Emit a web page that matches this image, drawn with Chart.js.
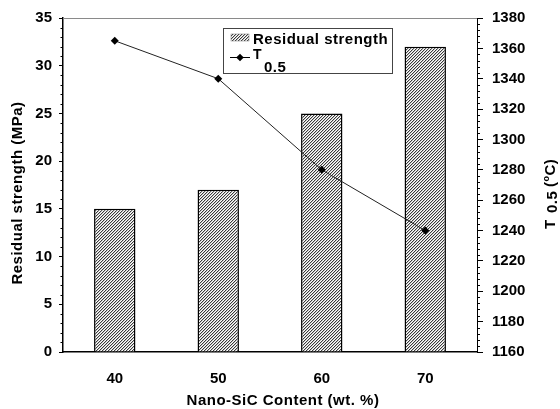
<!DOCTYPE html>
<html><head><meta charset="utf-8">
<script src="https://cdn.jsdelivr.net/npm/chart.js@4/dist/chart.umd.min.js"></script>
<style>html,body{margin:0;padding:0;background:#fff}#wrap{width:560px;height:409px;position:relative}</style>
</head><body><div id="wrap"><canvas id="c" width="560" height="409"></canvas></div>
<script>
// ---- data ----
const categories = ['40', '50', '60', '70'];
const residualStrength = [15, 17, 25, 32];
const t05 = [1365, 1340, 1280, 1240];
const leftRange = [0, 35];
const leftMajorStep = 5;
const leftMinorStep = 1;
const rightRange = [1160, 1380];
const rightMajorStep = 20;
const rightMinorStep = 4;
const xTitle = 'Nano-SiC Content (wt. %)';
const yTitle = 'Residual strength (MPa)';
const seriesNames = ['Residual strength', 'T', '0.5'];

const FONT = '"Liberation Sans", Arial, Helvetica, sans-serif';

// hatch pattern
function makeHatch() {
  const c = document.createElement('canvas');
  c.width = 3; c.height = 3;
  const g = c.getContext('2d');
  g.fillStyle = '#fff'; g.fillRect(0, 0, 3, 3);
  g.fillStyle = '#3a3a3a';
  g.fillRect(0, 2, 1, 1); g.fillRect(1, 1, 1, 1); g.fillRect(2, 0, 1, 1);
  g.fillStyle = '#c4c4c4';
  g.fillRect(0, 0, 1, 1); g.fillRect(1, 2, 1, 1); g.fillRect(2, 1, 1, 1);
  return g.createPattern(c, 'repeat');
}
const hatch = makeHatch();

const overlay = {
  id: 'overlay',
  afterDraw(chart) {
    const {ctx, chartArea: a, scales} = chart;
    ctx.save();
    // top frame line
    ctx.strokeStyle = '#8a8a8a'; ctx.lineWidth = 1;
    ctx.beginPath(); ctx.moveTo(a.left, a.top + 0.5); ctx.lineTo(a.right, a.top + 0.5); ctx.stroke();

    // minor ticks
    ctx.strokeStyle = '#000'; ctx.lineWidth = 1;
    const yl = scales.y, yr = scales.y1;
    for (let v = leftRange[0]; v <= leftRange[1]; v += leftMinorStep) {
      if (v % leftMajorStep === 0) continue;
      const p = Math.round(yl.getPixelForValue(v)) + 0.5;
      ctx.beginPath(); ctx.moveTo(a.left - 2.5, p); ctx.lineTo(a.left, p); ctx.stroke();
    }
    for (let v = rightRange[0]; v <= rightRange[1]; v += rightMinorStep) {
      if (v % rightMajorStep === 0) continue;
      const p = Math.round(yr.getPixelForValue(v)) + 0.5;
      ctx.beginPath(); ctx.moveTo(a.right, p); ctx.lineTo(a.right + 3, p); ctx.stroke();
    }

    // axis titles
    ctx.fillStyle = '#000';
    ctx.letterSpacing = '0.5px';
    ctx.font = 'bold 15px ' + FONT;
    ctx.textAlign = 'center'; ctx.textBaseline = 'middle';
    ctx.fillText(xTitle, a.left + (a.right - a.left) / 2 + 13, 401);
    ctx.save();
    ctx.translate(18, (a.top + a.bottom) / 2 + 8);
    ctx.rotate(-Math.PI / 2);
    ctx.fillText(yTitle, 0, 0);
    ctx.restore();

    // right title: T 0.5 (°C)
    ctx.save();
    ctx.translate(a.right + 78, 229);
    ctx.rotate(-Math.PI / 2);
    ctx.textAlign = 'left'; ctx.textBaseline = 'alphabetic';
    ctx.letterSpacing = '0.5px';
    ctx.font = 'bold 15px ' + FONT;
    ctx.fillText(seriesNames[1], 0, 0);
    ctx.fillText(seriesNames[2], 16, 2);
    ctx.fillText('(', 42, 0);
    let x = 42 + ctx.measureText('(').width;
    ctx.font = 'bold 9px ' + FONT;
    ctx.fillText('o', x, -6);
    x += ctx.measureText('o').width;
    ctx.font = 'bold 15px ' + FONT;
    ctx.fillText('C)', x, 0);
    ctx.restore();

    // legend
    const lx = a.left + 160, ly = a.top + 10, lw = 169, lh = 45;
    ctx.fillStyle = '#fff';
    ctx.fillRect(lx, ly, lw, lh);
    ctx.strokeStyle = '#444'; ctx.lineWidth = 1;
    ctx.strokeRect(lx + 0.5, ly + 0.5, lw, lh);
    ctx.fillStyle = hatch;
    ctx.fillRect(lx + 8, ly + 6, 18, 7);
    ctx.strokeStyle = '#777'; ctx.lineWidth = 0.5;
    ctx.strokeRect(lx + 8, ly + 6, 18, 7);
    ctx.fillStyle = '#000';
    ctx.textAlign = 'left'; ctx.textBaseline = 'alphabetic';
    ctx.font = 'bold 15px ' + FONT;
    ctx.letterSpacing = '0.5px';
    ctx.fillText(seriesNames[0], lx + 30, ly + 16);
    // line sample
    ctx.strokeStyle = '#000'; ctx.lineWidth = 1;
    ctx.beginPath(); ctx.moveTo(lx + 7, ly + 29.5); ctx.lineTo(lx + 27, ly + 29.5); ctx.stroke();
    ctx.beginPath();
    const cx = lx + 17, cy = ly + 29.5, r = 3.8;
    ctx.moveTo(cx, cy - r); ctx.lineTo(cx + r, cy); ctx.lineTo(cx, cy + r); ctx.lineTo(cx - r, cy); ctx.closePath();
    ctx.fill();
    ctx.font = 'bold 14px ' + FONT;
    ctx.fillText(seriesNames[1], lx + 30, ly + 31);
    ctx.font = 'bold 15px ' + FONT;
    ctx.fillText(seriesNames[2], lx + 41, ly + 44);
    ctx.restore();
  }
};

new Chart(document.getElementById('c'), {
  data: {
    labels: categories,
    datasets: [
      {
        type: 'line', label: 'T 0.5', data: t05, yAxisID: 'y1', order: 0,
        borderColor: '#222', borderWidth: 1, tension: 0,
        pointStyle: 'rectRot', pointRadius: 4, pointHoverRadius: 4,
        pointBackgroundColor: '#000', pointBorderColor: '#000', pointBorderWidth: 0
      },
      {
        type: 'bar', label: 'Residual strength', data: residualStrength, yAxisID: 'y', order: 1,
        backgroundColor: hatch, borderColor: '#000', borderWidth: 1.5,
        categoryPercentage: 1.0, barPercentage: 0.4
      }
    ]
  },
  options: {
    responsive: false, animation: false, devicePixelRatio: 1,
    layout: {padding: {top: 17, left: 0, right: 0, bottom: 0}},
    plugins: {legend: {display: false}, tooltip: {enabled: false}},
    scales: {
      x: {
        type: 'category', offset: true,
        grid: {display: false},
        border: {display: true, color: '#000', width: 1.5},
        ticks: {color: '#000', font: {family: FONT, size: 15, weight: 'bold'}, padding: 10},
        afterFit(s) { s.height = 57; }
      },
      y: {
        position: 'left', min: leftRange[0], max: leftRange[1],
        grid: {drawOnChartArea: false, tickLength: 4, color: '#000', tickWidth: 1},
        border: {display: true, color: '#000', width: 1.5},
        ticks: {stepSize: leftMajorStep, autoSkip: false, color: '#000', padding: 7,
                font: {family: FONT, size: 15, weight: 'bold'},
                callback: v => String(v)},
        afterFit(s) { s.width = 63; }
      },
      y1: {
        position: 'right', min: rightRange[0], max: rightRange[1],
        grid: {drawOnChartArea: false, tickLength: 6, color: '#000', tickWidth: 1},
        border: {display: true, color: '#000', width: 1},
        ticks: {stepSize: rightMajorStep, autoSkip: false, color: '#000', padding: 9,
                font: {family: FONT, size: 15, weight: 'bold'},
                callback: v => String(v)},
        afterFit(s) { s.width = 83; }
      }
    }
  },
  plugins: [overlay]
});
</script>
</body></html>
